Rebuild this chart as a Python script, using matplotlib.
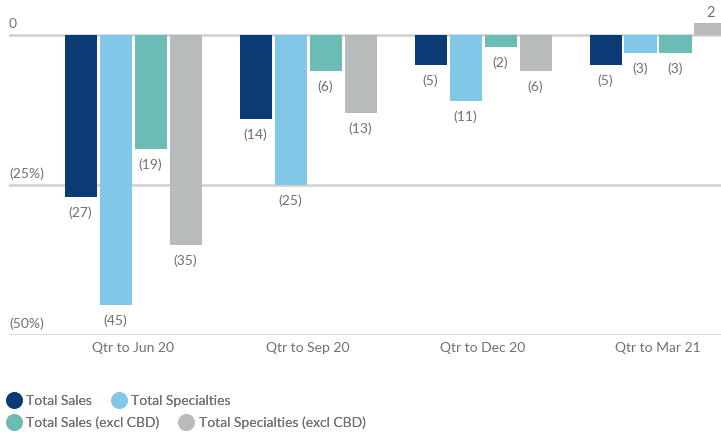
import numpy as np
import matplotlib
matplotlib.use("Agg")
import matplotlib.pyplot as plt
from matplotlib.lines import Line2D

# Data
quarters = ['Qtr to Jun 20', 'Qtr to Sep 20', 'Qtr to Dec 20', 'Qtr to Mar 21']
total_sales = [-27, -14, -5, -5]
total_specialties = [-45, -25, -11, -3]
total_sales_ex_cbd = [-19, -6, -2, -3]
total_specialties_ex_cbd = [-35, -13, -6, 2]

series = [
    ('Total Sales', total_sales, '#0b3a75'),
    ('Total Specialties', total_specialties, '#82c7e8'),
    ('Total Sales (excl CBD)', total_sales_ex_cbd, '#6bbcb4'),
    ('Total Specialties (excl CBD)', total_specialties_ex_cbd, '#b8bbbc'),
]

plt.rcParams['font.family'] = ['Lato', 'DejaVu Sans']
txt_color = '#707070'

fig = plt.figure(figsize=(7.21, 4.32), dpi=100)
ax = fig.add_axes([9 / 721, 1 - 335 / 432, 1 - 9 / 721, 335 / 432])

x = np.arange(len(quarters))
width = 0.183
step = 0.2

for i, (name, vals, col) in enumerate(series):
    pos = x + (i - 1.5) * step
    bars = ax.bar(pos, vals, width, color=col, zorder=3)
    for b, v in zip(bars, vals):
        if v < 0:
            ax.text(b.get_x() + b.get_width() / 2, v - 1.5, f'({abs(v)})',
                    ha='center', va='top', fontsize=10, color=txt_color)
        else:
            ax.text(b.get_x() + b.get_width() / 2, v + 0.5, f'{v}',
                    ha='center', va='bottom', fontsize=10.5, color=txt_color)

# gridlines and y labels
for yv, lab in [(0, '0'), (-25, '(25%)'), (-50, '(50%)')]:
    ax.axhline(yv, color='#d0d0d0', lw=1.8, zorder=1)
    ax.text(-0.709, yv + 0.8, lab, ha='left', va='bottom', fontsize=10,
            color=txt_color)

ax.set_xlim(-0.709, 3.36)
ax.set_ylim(-50, 35 / 6)
ax.set_xticks(x)
ax.set_xticklabels(quarters, fontsize=10, color=txt_color)
ax.tick_params(axis='x', length=0, pad=5)
ax.set_yticks([])
for s in ax.spines.values():
    s.set_visible(False)

# legend, two rows
def handle(col):
    return Line2D([], [], marker='o', ls='none', markersize=11,
                  markerfacecolor=col, markeredgecolor=col)

rows = [series[:2], series[2:]]
for r, row_y in zip(rows, [401 / 432, 423 / 432]):
    leg = fig.legend([handle(c) for _, _, c in r], [n for n, _, _ in r],
                     loc='center left', bbox_to_anchor=(0.004, 1 - row_y),
                     ncol=2, frameon=False, fontsize=10, handletextpad=0.4,
                     columnspacing=1.4, borderaxespad=0, borderpad=0.3,
                     handlelength=1.0)
    for t in leg.get_texts():
        t.set_color(txt_color)
    fig.add_artist(leg)

fig.savefig('out.png', dpi=100)
